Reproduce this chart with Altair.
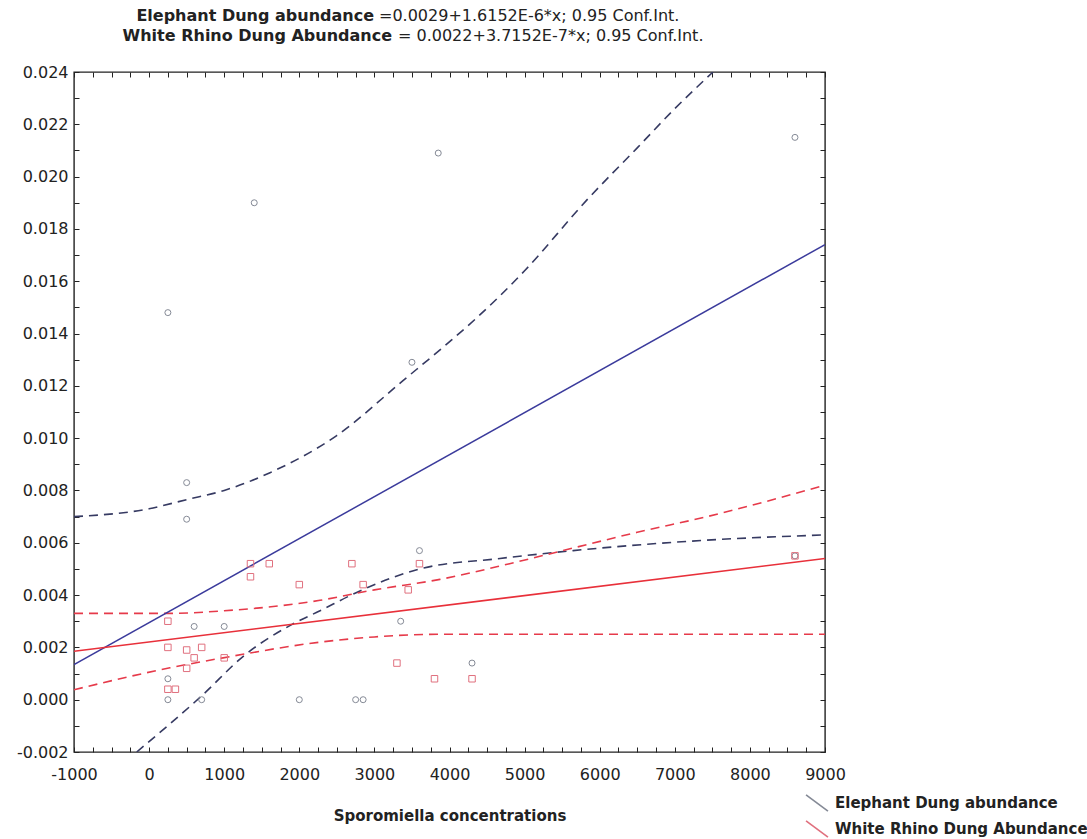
import altair as alt
import pandas as pd

# ---------------- text ----------------
TITLE_1_BOLD = "Elephant Dung abundance"
TITLE_1_REST = "=0.0029+1.6152E-6*x; 0.95 Conf.Int."
TITLE_2_BOLD = "White Rhino Dung Abundance"
TITLE_2_REST = "= 0.0022+3.7152E-7*x; 0.95 Conf.Int."
X_TITLE = "Sporomiella concentrations"
SERIES = ["Elephant Dung abundance", "White Rhino Dung Abundance"]

# ---------------- axes ----------------
X_DOMAIN = [-1000, 9000]
Y_DOMAIN = [-0.002, 0.024]
X_TICKS = list(range(-1000, 9001, 250))
Y_TICKS = [round(-0.002 + 0.001 * i, 3) for i in range(27)]

# ---------------- data ----------------
ele_x = [250, 1400, 3850, 8600, 3500, 500, 500, 3600, 8600, 250, 250, 600, 1000,
         700, 2000, 2750, 2850, 3350, 4300]
ele_y = [0.0148, 0.0190, 0.0209, 0.0215, 0.0129, 0.0083, 0.0069, 0.0057, 0.0055,
         0.0008, 0.0000, 0.0028, 0.0028, 0.0000, 0.0000, 0.0000, 0.0000, 0.0030, 0.0014]

rhino_x = [1350, 1600, 1350, 2700, 2000, 2850, 3600, 3450, 250, 250, 500, 700, 600,
           500, 1000, 250, 350, 3300, 3800, 4300, 8600]
rhino_y = [0.0052, 0.0052, 0.0047, 0.0052, 0.0044, 0.0044, 0.0052, 0.0042, 0.0030,
           0.0020, 0.0019, 0.0020, 0.0016, 0.0012, 0.0016, 0.0004, 0.0004, 0.0014,
           0.0008, 0.0008, 0.0055]

ele_fit_x = [-1000, 9000]
ele_fit_y = [0.00134, 0.0174]
rhino_fit_x = [-1000, 9000]
rhino_fit_y = [0.00185, 0.0054]

ele_upper_x = [-1000, 0, 500, 1000, 1610, 2498, 3381, 4006, 4362, 5000, 5827, 6500, 7000, 7509]
ele_upper_y = [0.0070, 0.0073, 0.00765, 0.0080, 0.00868, 0.0101, 0.0122, 0.0137, 0.0146,
               0.0164, 0.0191, 0.0211, 0.0226, 0.0240]
ele_lower_x = [-165, 720, 1254, 1898, 2276, 2764, 3607, 4672, 5647, 7429, 9000]
ele_lower_y = [-0.0020, 0.0002, 0.00166, 0.00287, 0.0034, 0.0041, 0.0050, 0.0054,
               0.0057, 0.0061, 0.0063]

rhino_upper_x = [-1000, 278, 1000, 2276, 3000, 3873, 4800, 5647, 6500, 7429, 9000]
rhino_upper_y = [0.0033, 0.0033, 0.0034, 0.0038, 0.0042, 0.0046, 0.0052, 0.0058,
                 0.0064, 0.0070, 0.0082]
rhino_lower_x = [-1000, 278, 985, 2276, 3000, 3873, 5000, 6000, 7000, 8000, 9000]
rhino_lower_y = [0.00038, 0.00122, 0.0016, 0.0022, 0.0024, 0.0025, 0.0025, 0.0025,
                 0.0025, 0.0025, 0.0025]

# ---------------- style ----------------
FONT = "DejaVu Sans"
ELE_POINT = "#858a96"
RHI_POINT = "#e0707e"
ELE_FIT = "#3b3b9c"
ELE_CI = "#363a62"
RHI_FIT = "#e8303a"
RHI_CI = "#e63a4a"

xs = alt.Scale(domain=X_DOMAIN, nice=False, zero=False)
ys = alt.Scale(domain=Y_DOMAIN, nice=False, zero=False)

x_axis = alt.Axis(
    values=X_TICKS, title=X_TITLE, domain=False, grid=False, offset=-5, tickSize=5,
    tickColor="#222", labelFlush=False,
    labelExpr="datum.value % 1000 === 0 ? replace(format(datum.value, 'd'), '\u2212', '-') : ''",
    labelOverlap=False, labelFont=FONT, labelFontSize=16, labelColor="#222", labelPadding=14,
    titleFont=FONT, titleFontSize=15, titleFontWeight="bold", titleColor="#222", titlePadding=26,
)
y_axis = alt.Axis(
    values=Y_TICKS, title=None, domain=False, grid=False, offset=-5, tickSize=5,
    tickColor="#222", labelFlush=False,
    labelExpr="round(datum.value * 1000) % 2 === 0 ? replace(format(datum.value, '.3f'), '\u2212', '-') : ''",
    labelOverlap=False, labelFont=FONT, labelFontSize=16, labelColor="#222", labelPadding=6,
)
x_top = alt.Axis(values=X_TICKS, orient="top", labels=False, title=None, domain=False, grid=False,
                 offset=-5, tickSize=5, tickColor="#222")
y_right = alt.Axis(values=Y_TICKS, orient="right", labels=False, title=None, domain=False,
                   grid=False, offset=-5, tickSize=5, tickColor="#222")


def xy(xv, yv):
    return pd.DataFrame({"x": xv, "y": yv})


def line(xv, yv, color, dash=None, width=1.6):
    kw = dict(color=color, strokeWidth=width, interpolate="monotone", clip=True)
    if dash:
        kw["strokeDash"] = dash
    return alt.Chart(xy(xv, yv)).mark_line(**kw).encode(
        x=alt.X("x:Q", scale=xs, axis=x_axis),
        y=alt.Y("y:Q", scale=ys, axis=y_axis),
    )


color_scale = alt.Scale(domain=SERIES, range=[ELE_POINT, RHI_POINT])
legend = alt.Legend(
    title=None, orient="none", legendX=731, legendY=719,
    symbolType="M-1,-0.75L1,0.75", symbolSize=480, symbolStrokeWidth=1.6,
    labelFont=FONT, labelFontSize=15, labelFontWeight="bold", labelColor="#222",
    labelOffset=6, rowPadding=2, labelLimit=400,
)

ele_pts = pd.DataFrame({"x": ele_x, "y": ele_y, "series": SERIES[0]})
rhino_pts = pd.DataFrame({"x": rhino_x, "y": rhino_y, "series": SERIES[1]})

pts_ele = alt.Chart(ele_pts).mark_point(shape="circle", size=36, strokeWidth=1, opacity=1).encode(
    x=alt.X("x:Q", scale=xs, axis=x_axis),
    y=alt.Y("y:Q", scale=ys, axis=y_axis),
    color=alt.Color("series:N", scale=color_scale, legend=legend),
)
pts_rhino = alt.Chart(rhino_pts).mark_point(shape="square", size=42, strokeWidth=1, opacity=1).encode(
    x=alt.X("x:Q", scale=xs, axis=x_axis),
    y=alt.Y("y:Q", scale=ys, axis=y_axis),
    color=alt.Color("series:N", scale=color_scale, legend=legend),
)

frame_ticks = alt.Chart(xy([X_DOMAIN[0]], [Y_DOMAIN[0]])).mark_point(opacity=0).encode(
    x=alt.X("x:Q", scale=xs, axis=x_top),
    y=alt.Y("y:Q", scale=ys, axis=y_right),
)

t1 = pd.DataFrame({"t": [TITLE_1_BOLD]})
t1r = pd.DataFrame({"t": [TITLE_1_REST]})
t2 = pd.DataFrame({"t": [TITLE_2_BOLD]})
t2r = pd.DataFrame({"t": [TITLE_2_REST]})


def label(df, x, y, align, weight):
    return alt.Chart(df).mark_text(
        align=align, baseline="middle", font=FONT, fontSize=16, fontWeight=weight, color="#222"
    ).encode(text="t:N", x=alt.value(x), y=alt.value(y))


titles = (
    label(t1, 300, -56, "right", "bold")
    + label(t1r, 305, -56, "left", "normal")
    + label(t2, 318, -36, "right", "bold")
    + label(t2r, 324, -36, "left", "normal")
)

main = alt.layer(
    line(ele_upper_x, ele_upper_y, ELE_CI, [9, 6]),
    line(ele_lower_x, ele_lower_y, ELE_CI, [9, 6]),
    line(rhino_upper_x, rhino_upper_y, RHI_CI, [9, 6]),
    line(rhino_lower_x, rhino_lower_y, RHI_CI, [9, 6]),
    line(ele_fit_x, ele_fit_y, ELE_FIT, None, 1.5),
    line(rhino_fit_x, rhino_fit_y, RHI_FIT, None, 1.6),
    pts_ele,
    pts_rhino,
)

chart = (
    alt.layer(main, frame_ticks, titles)
    .resolve_axis(x="independent", y="independent")
    .properties(
        width=751, height=680,
        autosize=alt.AutoSizeParams(type="none"),
        padding={"left": 74, "top": 72, "right": 262, "bottom": 87},
        background="white",
    )
    .configure_view(stroke="#222", strokeWidth=1.4)
)

chart.save("out.html", embed_options={"renderer": "svg", "actions": False})
